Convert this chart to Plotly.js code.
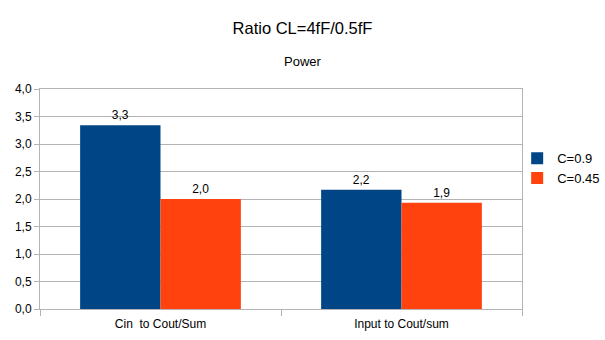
<!DOCTYPE html>
<html>
<head>
<meta charset="utf-8">
<script src="https://cdn.plot.ly/plotly-3.0.1.min.js"></script>
<style>
  html, body { margin: 0; padding: 0; background: #ffffff; }
  #chart { width: 605px; height: 340px; }
</style>
</head>
<body>
<div id="chart"></div>
<script>
// ------------------------------------------------------------------------------
// DATA
const categories = ['Cin  to Cout/Sum', 'Input to Cout/sum'];
const c09_values  = [3.34, 2.17];
const c045_values = [2.0, 1.93];
const series_names = ['C=0.9', 'C=0.45'];
const y_ticks = [0, 0.5, 1, 1.5, 2, 2.5, 3, 3.5, 4];

// ------------------------------------------------------------------------------
// STYLE
const font_family = '"Liberation Sans", Arial, sans-serif';
const grid_color  = '#b3b3b3';
const colors      = ['#004586', '#ff420e'];

function makeBar(name, values, color) {
    return {
        type: 'bar',
        name: name,
        x: categories,
        y: values,
        marker: { color: color },
        texttemplate: '%{y:.1f}',
        textposition: 'outside',
        textfont: { family: font_family, size: 12, color: '#000000' },
        cliponaxis: false,
        hoverinfo: 'none'
    };
}

const traces = [
    makeBar(series_names[0], c09_values, colors[0]),
    makeBar(series_names[1], c045_values, colors[1])
];

const layout = {
    width: 605,
    height: 340,
    paper_bgcolor: '#ffffff',
    plot_bgcolor: '#ffffff',
    separators: ',.',
    font: { family: font_family, size: 12, color: '#000000' },
    margin: { l: 40, r: 83, t: 89, b: 31, autoexpand: false },
    barmode: 'group',
    bargap: 0.333,
    bargroupgap: 0,
    title: {
        text: 'Ratio CL=4fF/0.5fF',
        font: { family: font_family, size: 16.5, color: '#000000' },
        x: 0.5,
        xref: 'container',
        xanchor: 'center',
        y: 1 - 28 / 340,
        yanchor: 'middle'
    },
    annotations: [
        {
            text: 'Power',
            xref: 'paper',
            yref: 'paper',
            x: (303 - 40) / 482,
            y: 1 + (89 - 62) / 220,
            xanchor: 'center',
            yanchor: 'middle',
            showarrow: false,
            font: { family: font_family, size: 13, color: '#000000' }
        }
    ],
    xaxis: {
        type: 'category',
        showline: true,
        linecolor: grid_color,
        linewidth: 1,
        mirror: true,
        ticks: 'outside',
        tickson: 'boundaries',
        ticklen: 6,
        tickcolor: grid_color,
        ticklabelstandoff: 4,
        showgrid: false,
        tickfont: { family: font_family, size: 12, color: '#000000' }
    },
    yaxis: {
        range: [0, 4],
        tickvals: y_ticks,
        tickformat: '.1f',
        showline: true,
        linecolor: grid_color,
        linewidth: 1,
        mirror: true,
        ticks: 'outside',
        ticklen: 5,
        tickcolor: grid_color,
        showgrid: true,
        gridcolor: grid_color,
        zeroline: false,
        tickfont: { family: font_family, size: 12, color: '#000000' }
    },
    legend: {
        x: 0.99,
        xanchor: 'left',
        y: 0.64,
        yanchor: 'middle',
        bgcolor: 'rgba(0,0,0,0)',
        font: { family: font_family, size: 13, color: '#000000' },
        itemwidth: 30,
        tracegroupgap: 0
    }
};

Plotly.newPlot('chart', traces, layout, { displayModeBar: false, staticPlot: true });
</script>
</body>
</html>
